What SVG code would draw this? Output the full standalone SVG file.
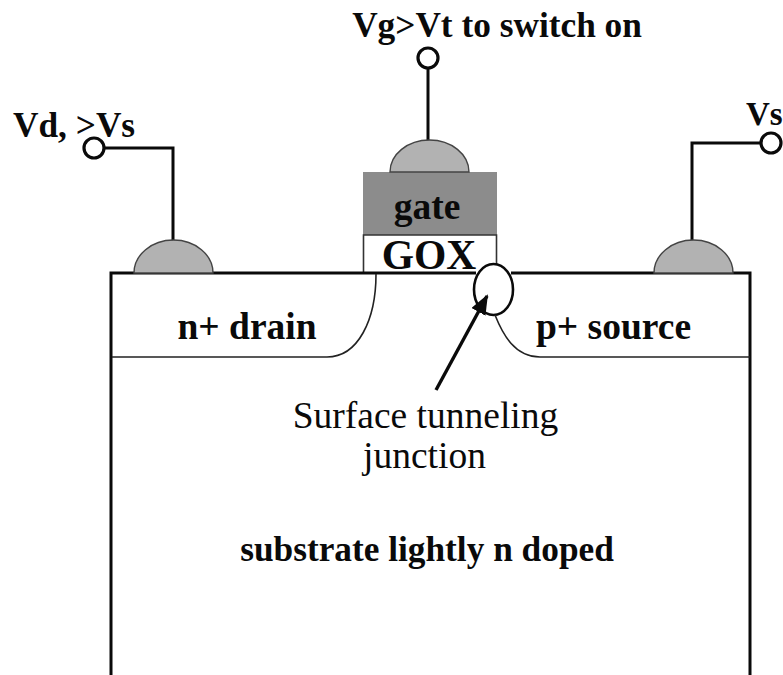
<svg xmlns="http://www.w3.org/2000/svg" width="783" height="675" viewBox="0 0 783 675">
<style>
text{font-family:"Liberation Serif","Times New Roman",serif;fill:#0a0a0a}
.l{font-weight:bold;font-size:37.500px}
.m{font-weight:bold;font-size:35.300px}
.r{font-size:37.500px}
.w{fill:none;stroke:#0a0a0a;stroke-width:3}
.t{fill:none;stroke:#222;stroke-width:1.6}
.pad{fill:#b2b2b2;stroke:#444;stroke-width:1.4}
.term{fill:#fff;stroke:#0a0a0a;stroke-width:3.2}
</style>
<defs><marker id="ah" markerUnits="userSpaceOnUse" markerWidth="22" markerHeight="20" refX="18" refY="8" orient="auto"><path d="M0,0L20,8L0,16z" fill="#0a0a0a"/></marker></defs>
<rect width="783" height="675" fill="#fff"/>
<g id="gate"><rect x="363" y="172" width="134" height="63" fill="#8c8c8c"/><text class="l" x="427" y="219" text-anchor="middle">gate</text></g>
<g id="gox"><path d="M363.500,273V235H496.500V273" fill="#fff" stroke="#333" stroke-width="1.600"/><text x="429" y="269" text-anchor="middle" font-weight="bold" font-size="41.500">GOX</text></g>
<g id="junction"><ellipse cx="493.500" cy="289.500" rx="19.500" ry="25.500" fill="#fff" stroke="#0a0a0a" stroke-width="2.600"/></g>
<g id="connectors">
<path class="w" d="M111,675V273H476M511,273H750V675"/>
<path class="t" d="M112,357H327C358,357 376,320 376,274"/>
<path class="t" d="M750,357H540C515,357 503,335 495,315"/>
<path class="w" d="M428,68V141"/>
<path class="w" d="M105,148H173V241"/>
<path class="w" d="M760,143H692V240"/>
<path d="M436,390L487,296" fill="none" stroke="#0a0a0a" stroke-width="3.400" marker-end="url(#ah)"/>
</g>
<g id="gate-contact"><path class="pad" d="M390,172A39.500,32 0 0 1 469,172Z"/></g>
<g id="gate-terminal"><circle class="term" cx="428" cy="58" r="10"/><text class="m" x="497" y="37" text-anchor="middle">Vg&gt;Vt to switch on</text></g>
<g id="drain-contact"><path class="pad" d="M134,273A39.500,33 0 0 1 213,273Z"/></g>
<g id="drain-terminal"><text class="m" x="13" y="137">Vd, &gt;Vs</text><circle class="term" cx="94" cy="148" r="10"/></g>
<g id="source-contact"><path class="pad" d="M654,273A39.500,33 0 0 1 733,273Z"/></g>
<g id="source-terminal"><text font-weight="bold" font-size="33" x="746" y="125">Vs</text><circle class="term" cx="771" cy="143" r="10"/></g>
<g id="drain"><text class="l" x="247" y="339" text-anchor="middle">n+ drain</text></g>
<g id="source"><text class="l" x="613.500" y="339" text-anchor="middle">p+ source</text></g>
<g id="junction-label"><text class="r" x="425.500" y="428" text-anchor="middle">Surface tunneling</text><text class="r" x="424.500" y="468" text-anchor="middle">junction</text></g>
<g id="substrate"><text class="m" x="427" y="561" text-anchor="middle">substrate lightly n doped</text></g>
</svg>
